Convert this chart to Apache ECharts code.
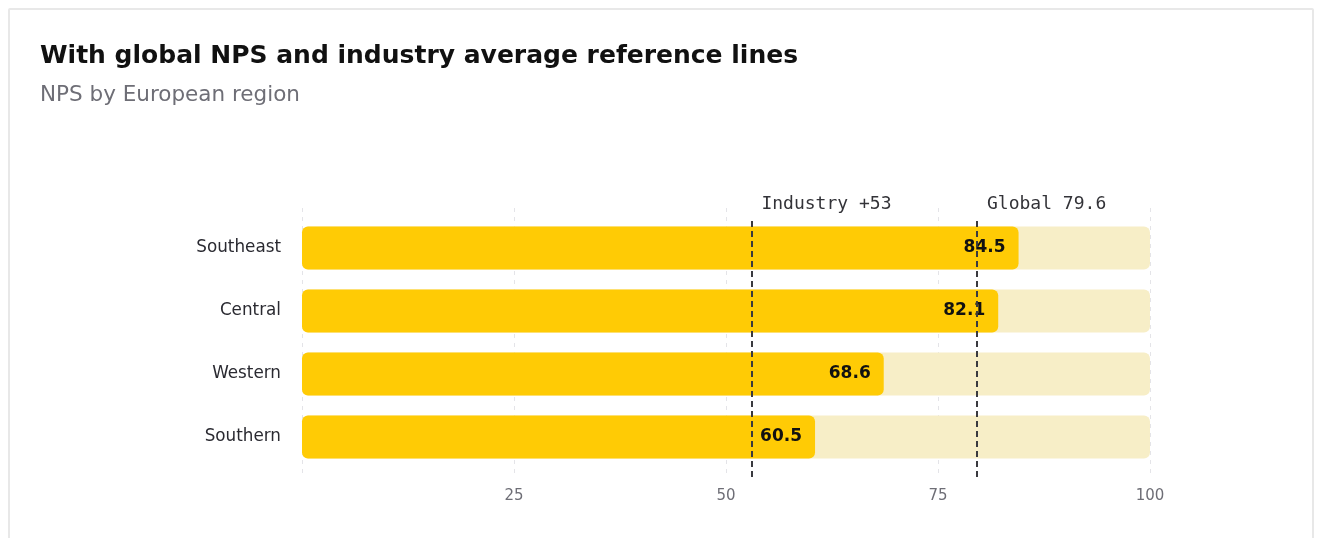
<!DOCTYPE html>
<html>
<head>
<meta charset="utf-8">
<script src="https://cdn.jsdelivr.net/npm/echarts@6/dist/echarts.min.js"></script>
<style>
  html, body { margin: 0; padding: 0; background: #ffffff; }
  #wrap { position: relative; width: 1323px; height: 538px; overflow: hidden; }
  #card { position: absolute; left: 8px; top: 8px; width: 1306px; height: 600px;
          border: 2px solid #e8e8e8; border-radius: 2px; box-sizing: border-box; }
  #chart { position: absolute; left: 0; top: 0; width: 1323px; height: 538px; }
</style>
</head>
<body>
<div id="wrap">
  <div id="card"></div>
  <div id="chart"></div>
</div>
<script>
// Regions and their NPS
const regions = ['Southeast', 'Central', 'Western', 'Southern'];
const npsValues = [84.5, 82.1, 68.6, 60.5];
const trackMax = [100, 100, 100, 100];

// Reference lines
const refNames = ['Industry +53', 'Global 79.6'];
const refValues = [53, 79.6];

// Axis ticks
const axisMin = 0;
const axisMax = 100;
const axisStep = 25;

const FONT = '"DejaVu Sans", Inter, sans-serif';
const MONO = '"DejaVu Sans Mono", "Liberation Mono", monospace';

const chart = echarts.init(document.getElementById('chart'), null, { renderer: 'canvas' });

const option = {
  backgroundColor: 'transparent',
  animation: false,
  title: [
    { text: 'With global NPS and industry average reference lines', left: 35, top: 39,
      textStyle: { fontFamily: FONT, fontSize: 25, fontWeight: 700, color: '#111111' } },
    { text: 'NPS by European region', left: 35, top: 79,
      textStyle: { fontFamily: FONT, fontSize: 21.5, fontWeight: 400, color: '#6e6e76' } }
  ],
  grid: [
    { left: 302, right: 173, top: 216.5, height: 252, containLabel: false },
    { left: 302, right: 173, top: 208, bottom: 60, containLabel: false },
    { left: 302, right: 173, top: 218, bottom: 61, containLabel: false }
  ],
  xAxis: [
    { gridIndex: 0, type: 'value', min: axisMin, max: axisMax, interval: axisStep,
      show: false },
    { gridIndex: 1, type: 'value', min: axisMin, max: axisMax, interval: axisStep,
      axisLine: { show: false }, axisTick: { show: false },
      axisLabel: { margin: 11, fontFamily: FONT, fontSize: 15, color: '#6e6e76',
        formatter: v => (v === 0 ? '' : String(v)) },
      splitLine: { show: true, lineStyle: { color: '#e4e4e8', width: 1, type: [4, 5] } } },
    { gridIndex: 2, type: 'value', min: axisMin, max: axisMax, show: false }
  ],
  yAxis: [
    { gridIndex: 0, type: 'category', data: regions, inverse: true,
      axisLine: { show: false }, axisTick: { show: false }, splitLine: { show: false },
      axisLabel: { margin: 21, fontFamily: FONT, fontSize: 16.8, fontWeight: 500, color: '#2a2a31' } },
    { gridIndex: 1, type: 'value', show: false, min: 0, max: 1 },
    { gridIndex: 2, type: 'value', show: false, min: 0, max: 1 }
  ],
  series: [
    {
      type: 'bar', xAxisIndex: 0, yAxisIndex: 0, data: trackMax,
      barWidth: 43, barGap: '-100%', silent: true, z: 1,
      itemStyle: { color: '#f7eec7', borderRadius: 6 }
    },
    {
      type: 'bar', xAxisIndex: 0, yAxisIndex: 0, data: npsValues,
      barWidth: 43, z: 2,
      itemStyle: { color: '#ffcb05', borderRadius: 6 },
      label: { show: true, position: 'insideRight', distance: 13,
        fontFamily: FONT, fontSize: 17, fontWeight: 700, color: '#111111',
        formatter: p => p.value.toFixed(1) }
    },
    {
      type: 'line', xAxisIndex: 2, yAxisIndex: 2, data: [], z: 5,
      markLine: {
        silent: true, symbol: 'none',
        lineStyle: { color: '#3a3a3f', width: 2, type: [6, 4] },
        label: { show: false },
        data: refValues.map(v => ({ xAxis: v }))
      }
    }
  ]
};

chart.setOption(option);

// Reference line captions, placed just right of each line above the plot
const captions = refValues.map((v, i) => {
  const x = chart.convertToPixel({ xAxisIndex: 2 }, v);
  return {
    type: 'text', left: x + 10, top: 195, z: 10,
    style: { text: refNames[i], fontFamily: MONO, fontSize: 18, fill: '#333338' }
  };
});
chart.setOption({ graphic: captions });
</script>
</body>
</html>
